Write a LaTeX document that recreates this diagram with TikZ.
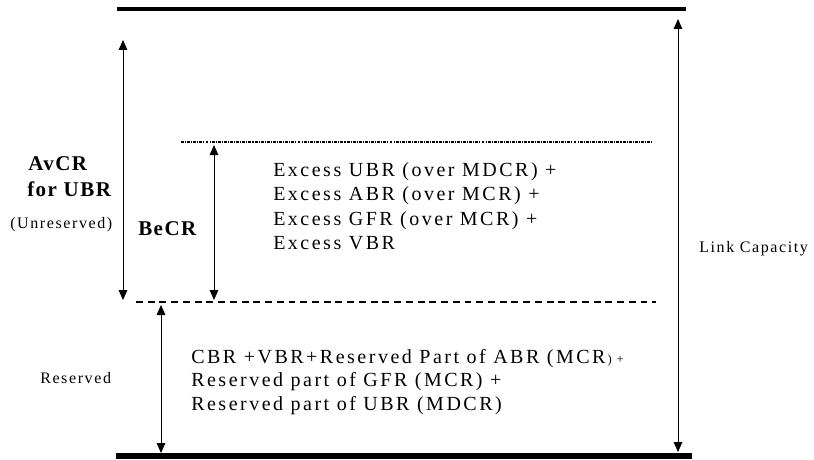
\documentclass[tikz,border=0pt]{standalone}
\usepackage{fontspec}
\setmainfont{Liberation Serif}
\newfontfamily\spacedf[LetterSpace=12.5]{Liberation Serif}
\newfontfamily\smallf[LetterSpace=10]{Liberation Serif}
\newfontfamily\boldf[LetterSpace=7]{Liberation Serif Bold}
\usetikzlibrary{arrows.meta}
\begin{document}
\begin{tikzpicture}[x=0.75pt,y=-0.75pt,
  thickline/.style={line width=3.2pt},
  thickerline/.style={line width=3.8pt},
  dotline/.style={line width=0.9pt,dash pattern=on 2.2pt off 0.8pt on 0.8pt off 0.8pt},
  dashline/.style={line width=1.4pt,dash pattern=on 5.2pt off 3.6pt},
  dimarrow/.style={line width=0.75pt,{Triangle[length=7.5pt,width=6.5pt]}-{Triangle[length=7.5pt,width=6.5pt]}},
  maintext/.style={anchor=base west,inner sep=0pt,font=\spacedf\fontsize{15pt}{18pt}\selectfont},
  boldlabel/.style={anchor=base west,inner sep=0pt,font=\boldf\fontsize{15.75pt}{19pt}\selectfont},
  smalllabel/.style={anchor=base west,inner sep=0pt,font=\smallf\fontsize{12pt}{14pt}\selectfont}]
\useasboundingbox (0,0) rectangle (814,460);
% horizontal lines
\coordinate (topL) at (117,9);   \coordinate (topR) at (686,9);
\coordinate (botL) at (116,456); \coordinate (botR) at (692,456);
\coordinate (dotL) at (181,142); \coordinate (dotR) at (652,142);
\coordinate (dasL) at (136,302); \coordinate (dasR) at (656,302);
\draw[thickline] (topL) -- (topR);
\draw[thickerline] (botL) -- (botR);
\draw[dotline] (dotL) -- (dotR);
\draw[dashline] (dasL) -- (dasR);
% arrows
\coordinate (avT) at (123,40);  \coordinate (avB) at (123,300);
\coordinate (beT) at (214,145); \coordinate (beB) at (214,300);
\coordinate (reT) at (161,305); \coordinate (reB) at (161,453);
\coordinate (lcT) at (678,19);  \coordinate (lcB) at (678,452);
\draw[dimarrow] (avT) -- (avB);
\draw[dimarrow] (beT) -- (beB);
\draw[dimarrow] (reT) -- (reB);
\draw[dimarrow] (lcT) -- (lcB);
% labels
\node[boldlabel] (av1) at (28,170) {AvCR};
\node[boldlabel] (av2) at (27,196) {for UBR};
\node[smalllabel] (unres) at (10,228) {(Unreserved)};
\node[boldlabel] (becr) at (138,235) {BeCR};
\node[smalllabel] (res) at (40,383) {Reserved};
\node[smalllabel] (link) at (699,252) {Link Capacity};
% excess block
\node[maintext] (e1) at (273,176) {Excess UBR (over MDCR) +};
\node[maintext] (e2) at (273,200.5) {Excess ABR (over MCR) +};
\node[maintext] (e3) at (273,225) {Excess GFR (over MCR) +};
\node[maintext] (e4) at (273,249.5) {Excess VBR};
% reserved block
\node[maintext] (c1) at (191,363) {CBR +VBR+Reserved Part of ABR (MCR{\fontsize{9.5pt}{11pt}\selectfont\,) +}};
\node[maintext] (c2) at (191,386.5) {Reserved part of GFR (MCR) +};
\node[maintext] (c3) at (191,410) {Reserved part of UBR (MDCR)};
\end{tikzpicture}
\end{document}
